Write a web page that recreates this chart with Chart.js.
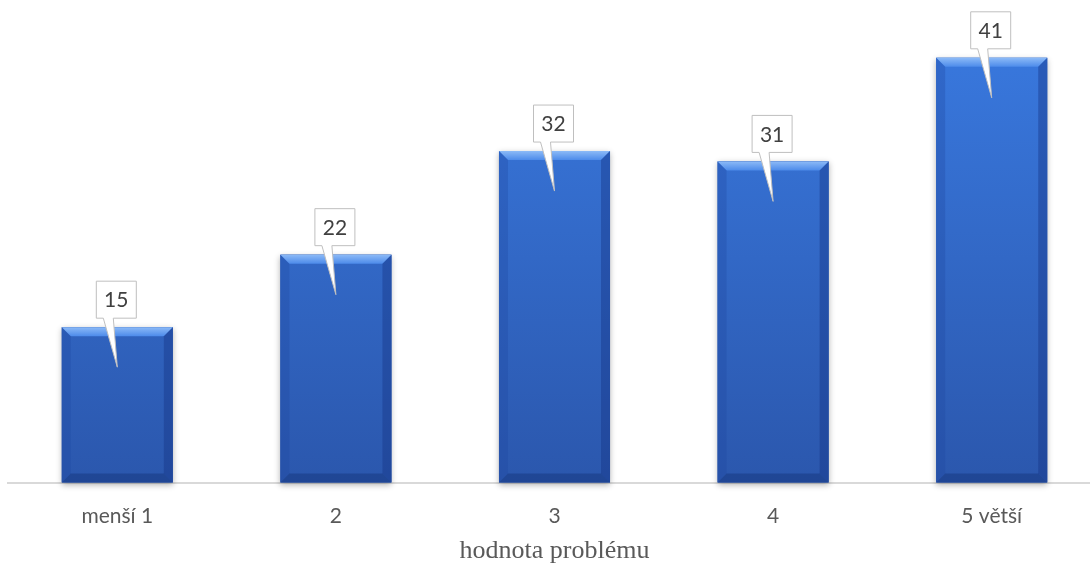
<!DOCTYPE html>
<html>
<head>
<meta charset="utf-8">
<script src="https://cdn.jsdelivr.net/npm/chart.js@4/dist/chart.umd.min.js"></script>
<style>
  html, body { margin: 0; padding: 0; background: #fff; overflow: hidden; }
  #wrap { width: 1101px; height: 565px; }
</style>
</head>
<body>
<div id="wrap"><canvas id="graf" width="1101" height="565"></canvas></div>
<script>
const kategorie = ["menší 1", "2", "3", "4", "5 větší"];
const pocty = [15, 22, 32, 31, 41];
const nazevOsy = "hodnota problému";

// bar fill: vertical blue gradient
function barFill(ctx) {
  const area = ctx.chart.chartArea;
  if (!area) return "#3470d8";
  const g = ctx.chart.ctx.createLinearGradient(0, area.top, 0, area.bottom);
  g.addColorStop(0, "#3a7be2");
  g.addColorStop(1, "#2b57ad");
  return g;
}

// soft shadow behind each bar
const stin = {
  id: "stin",
  beforeDatasetsDraw(chart) {
    const c = chart.ctx;
    chart.getDatasetMeta(0).data.forEach(b => {
      const l = b.x - b.width / 2;
      c.save();
      c.shadowColor = "rgba(0,0,0,0.3)";
      c.shadowBlur = 6;
      c.shadowOffsetY = 2;
      c.fillStyle = "#2b57ad";
      c.fillRect(l, b.y, b.width, b.base - b.y);
      c.restore();
    });
  }
};

// bevelled edges on the bars
const zkoseni = {
  id: "zkoseni",
  afterDatasetsDraw(chart) {
    const c = chart.ctx;
    const s = 9;
    chart.getDatasetMeta(0).data.forEach(b => {
      const l = b.x - b.width / 2, r = b.x + b.width / 2, t = b.y, d = b.base;
      const poly = (pts, fill) => {
        c.beginPath();
        c.moveTo(pts[0][0], pts[0][1]);
        for (let i = 1; i < pts.length; i++) c.lineTo(pts[i][0], pts[i][1]);
        c.closePath();
        c.fillStyle = fill;
        c.fill();
      };
      const gt = c.createLinearGradient(0, t, 0, t + s);
      gt.addColorStop(0, "#8cbaf7");
      gt.addColorStop(1, "#4d8bea");
      poly([[l, t], [r, t], [r - s, t + s], [l + s, t + s]], gt);
      poly([[l, t], [l + s, t + s], [l + s, d - s], [l, d]], "rgba(30,70,160,0.3)");
      poly([[r, t], [r - s, t + s], [r - s, d - s], [r, d]], "rgba(20,50,130,0.4)");
      poly([[l, d], [l + s, d - s], [r - s, d - s], [r, d]], "rgba(20,50,120,0.45)");
    });
  }
};

// callout labels with a pointer into the bar
const popisky = {
  id: "popisky",
  afterDatasetsDraw(chart) {
    const c = chart.ctx;
    const data = chart.data.datasets[0].data;
    chart.getDatasetMeta(0).data.forEach((b, i) => {
      const w = 40, h = 37;
      const bl = b.x - 1 - w / 2, br = bl + w;
      const bb = b.y - 9, bt = bb - h;
      const tx = b.x, ty = b.y + 40;
      c.save();
      c.beginPath();
      c.moveTo(bl, bt);
      c.lineTo(br, bt);
      c.lineTo(br, bb);
      c.lineTo(bl + 17, bb);
      c.lineTo(tx, ty);
      c.lineTo(bl + 7, bb);
      c.lineTo(bl, bb);
      c.closePath();
      c.fillStyle = "#ffffff";
      c.fill();
      c.lineWidth = 1;
      c.strokeStyle = "#bfbfbf";
      c.stroke();
      c.fillStyle = "#404040";
      c.font = "21px Lato";
      c.textAlign = "center";
      c.textBaseline = "middle";
      c.fillText(String(data[i]), (bl + br) / 2, (bt + bb) / 2 + 1);
      c.restore();
    });
  }
};

new Chart(document.getElementById("graf"), {
  type: "bar",
  data: {
    labels: kategorie,
    datasets: [{
      data: pocty,
      backgroundColor: barFill,
      borderWidth: 0,
      categoryPercentage: 1,
      barPercentage: 0.508
    }]
  },
  options: {
    responsive: false,
    animation: false,
    layout: { padding: { top: 6, left: 8, right: 0, bottom: 0 } },
    plugins: { legend: { display: false }, tooltip: { enabled: false } },
    scales: {
      x: {
        grid: { display: false, drawTicks: false },
        border: { color: "#d9d9d9", width: 2 },
        ticks: { color: "#595959", font: { family: "Lato", size: 21 }, padding: 21 },
        title: {
          display: true,
          text: nazevOsy,
          color: "#595959",
          font: { family: "Liberation Serif", size: 26 },
          // tick padding is counted twice in the axis height, take it back here
          padding: { top: -14, bottom: -2 }
        }
      },
      y: {
        display: false,
        min: 0,
        max: 46
      }
    }
  },
  plugins: [stin, zkoseni, popisky]
});
</script>
</body>
</html>
